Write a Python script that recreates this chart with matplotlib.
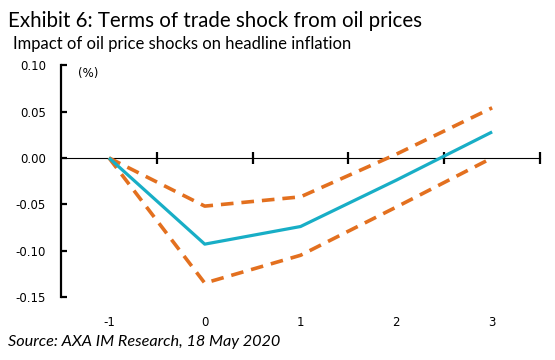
import numpy as np
import matplotlib
matplotlib.use("Agg")
import matplotlib.pyplot as plt

# horizon (years) and impact on headline inflation (%)
horizon = ["-1", "0", "1", "2", "3"]
central = [0.0, -0.093, -0.074, -0.024, 0.028]
upper = [0.0, -0.052, -0.042, 0.004, 0.054]
lower = [0.0, -0.135, -0.105, -0.053, 0.0]
y_ticks = [0.10, 0.05, 0.00, -0.05, -0.10, -0.15]

teal = "#18AEC6"
orange = "#E3701F"

fig = plt.figure(figsize=(5.55, 3.6), dpi=100)
ax = fig.add_axes([0.110, 0.175, 0.863, 0.644])

x = np.arange(len(horizon))
ax.plot(x, upper, color=orange, lw=2.6, ls=(0, (3.5, 2.2)), dash_capstyle="butt")
ax.plot(x, lower, color=orange, lw=2.6, ls=(0, (3.5, 2.2)), dash_capstyle="butt")
ax.plot(x, central, color=teal, lw=2.3, solid_capstyle="butt")

ax.set_xlim(-0.5, len(horizon) - 0.5)
ax.set_ylim(-0.15, 0.10)

for s in ["top", "right", "bottom"]:
    ax.spines[s].set_visible(False)
ax.spines["left"].set_linewidth(1.6)

ax.set_yticks(y_ticks)
ax.set_yticklabels([f"{v:.2f}" for v in y_ticks], fontsize=8.5, family="DejaVu Sans")
ax.tick_params(axis="y", direction="in", length=4, width=1.6, pad=11)

ax.set_xticks(x)
ax.set_xticklabels(horizon, fontsize=8.5, family="DejaVu Sans")
ax.tick_params(axis="x", length=0, pad=14)

# zero line with category boundary ticks
zero_frac = (0 - (-0.15)) / (0.10 - (-0.15))
sec = ax.secondary_xaxis(zero_frac)
sec.spines["bottom"].set_linewidth(1.6)
sec.set_xticks(np.arange(0.5, len(horizon), 1.0))
sec.set_xticklabels([])
sec.tick_params(direction="inout", length=9, width=1.6)

ax.text(0.035, 0.99, "(%)", transform=ax.transAxes, fontsize=8.5,
        family="DejaVu Sans", va="top", ha="left")

fig.text(0.014, 0.925, "Exhibit 6: Terms of trade shock from oil prices",
         fontsize=14.8, family="Lato", va="baseline")
fig.text(0.023, 0.863, "Impact of oil price shocks on headline inflation",
         fontsize=12, family="Lato", va="baseline")
fig.text(0.014, 0.040, "Source: AXA IM Research, 18 May 2020",
         fontsize=11.7, family="Lato", style="italic", va="baseline")

fig.savefig("out.png", dpi=100)
